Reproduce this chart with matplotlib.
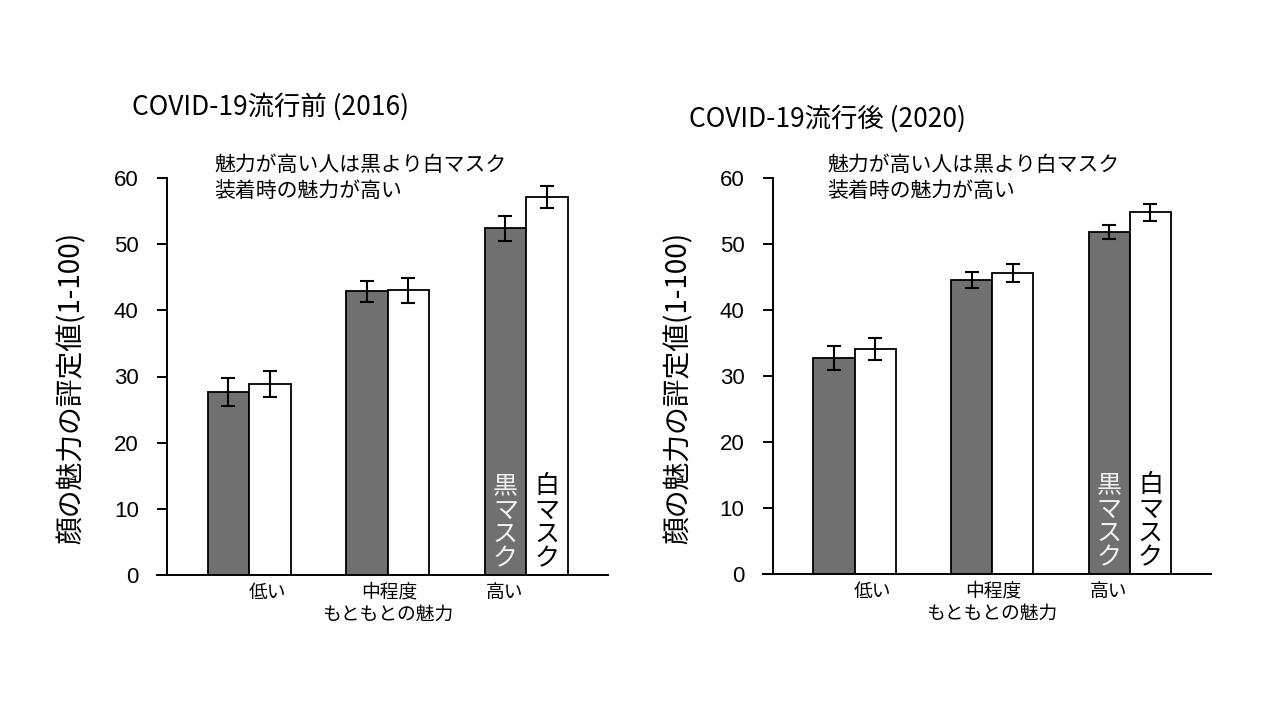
import matplotlib
matplotlib.use("Agg")
import matplotlib.pyplot as plt
import matplotlib.transforms as mtransforms
import numpy as np

plt.rcParams['font.family'] = ['Noto Sans CJK JP', 'DejaVu Sans']

# data
levels = ['低い', '中程度', '高い']
titles = ['COVID-19流行前 (2016)', 'COVID-19流行後 (2020)']
black_2016 = [27.6, 42.9, 52.4]
black_2016_err = [2.1, 1.6, 1.85]
white_2016 = [28.9, 43.0, 57.1]
white_2016_err = [2.0, 1.9, 1.7]
black_2020 = [32.7, 44.5, 51.8]
black_2020_err = [1.85, 1.2, 1.1]
white_2020 = [34.1, 45.6, 54.8]
white_2020_err = [1.65, 1.35, 1.3]

note = '魅力が高い人は黒より白マスク\n装着時の魅力が高い'
ylabel = '顔の魅力の評定値(1-100)'
xlabel = 'もともとの魅力'
label_black = '黒マスク'
label_white = '白マスク'

W, H = 1280, 720
fig = plt.figure(figsize=(12.8, 7.2), dpi=100)


def px(x, y):
    return x / W, 1 - y / H


def draw_panel(rect, title, title_xy, note_xy, black, black_err, white, white_err):
    ax = fig.add_axes(rect)
    x = np.arange(len(levels))
    w = 0.3
    ekw = dict(ecolor='black', elinewidth=1.5, capsize=4.7, capthick=1.5)
    ax.bar(x - w / 2, black, w, color='#707070', edgecolor='black', linewidth=1.3,
           yerr=black_err, error_kw=ekw, zorder=2)
    ax.bar(x + w / 2, white, w, color='white', edgecolor='black', linewidth=1.3,
           yerr=white_err, error_kw=ekw, zorder=2)

    ax.set_xlim(-0.665, 2.59)
    ax.set_ylim(0, 60)
    ax.set_yticks(range(0, 61, 10))
    ax.spines['top'].set_visible(False)
    ax.spines['right'].set_visible(False)
    ax.spines['left'].set_position(('data', -0.595))
    for s in ('left', 'bottom'):
        ax.spines[s].set_linewidth(1.4)
    ax.tick_params(axis='y', direction='out', length=7.2, width=1.4, pad=13,
                   labelsize=16)
    for t in ax.get_yticklabels():
        t.set_fontfamily(['Liberation Sans', 'DejaVu Sans'])

    # category labels sit a little off the group centres in the original
    ax.set_xticks(x + np.array([0.13, 0.01, -0.155]), levels)
    ax.tick_params(axis='x', length=0, pad=5, labelsize=13.5)

    ax.set_xlabel(xlabel, fontsize=13.5, va='center')
    ax.xaxis.set_label_coords(1, -0.098,
                              transform=mtransforms.blended_transform_factory(ax.transData, ax.transAxes))
    ax.set_ylabel(ylabel, fontsize=20, va='center')
    ax.yaxis.set_label_coords(-0.188, 0.47)

    ax.text(2 - w / 2, 15.4, '\n'.join(label_black), color='#f2f2f2', fontsize=18,
            ha='center', va='top', linespacing=0.92, zorder=3)
    ax.text(2 + w / 2, 15.4, '\n'.join(label_white), color='black', fontsize=18,
            ha='center', va='top', linespacing=0.92, zorder=3)

    fig.text(*px(*title_xy), title, fontsize=19, ha='left', va='center')
    fig.text(*px(*note_xy), note, fontsize=15, ha='left', va='top', linespacing=1.25)
    return ax


draw_panel([157 / W, 145 / H, 451 / W, 397 / H], titles[0], (132, 107), (214, 154),
           black_2016, black_2016_err, white_2016, white_2016_err)
draw_panel([763 / W, 146 / H, 448 / W, 396 / H], titles[1], (689, 119), (827, 154),
           black_2020, black_2020_err, white_2020, white_2020_err)

fig.savefig('out.png', dpi=100)
